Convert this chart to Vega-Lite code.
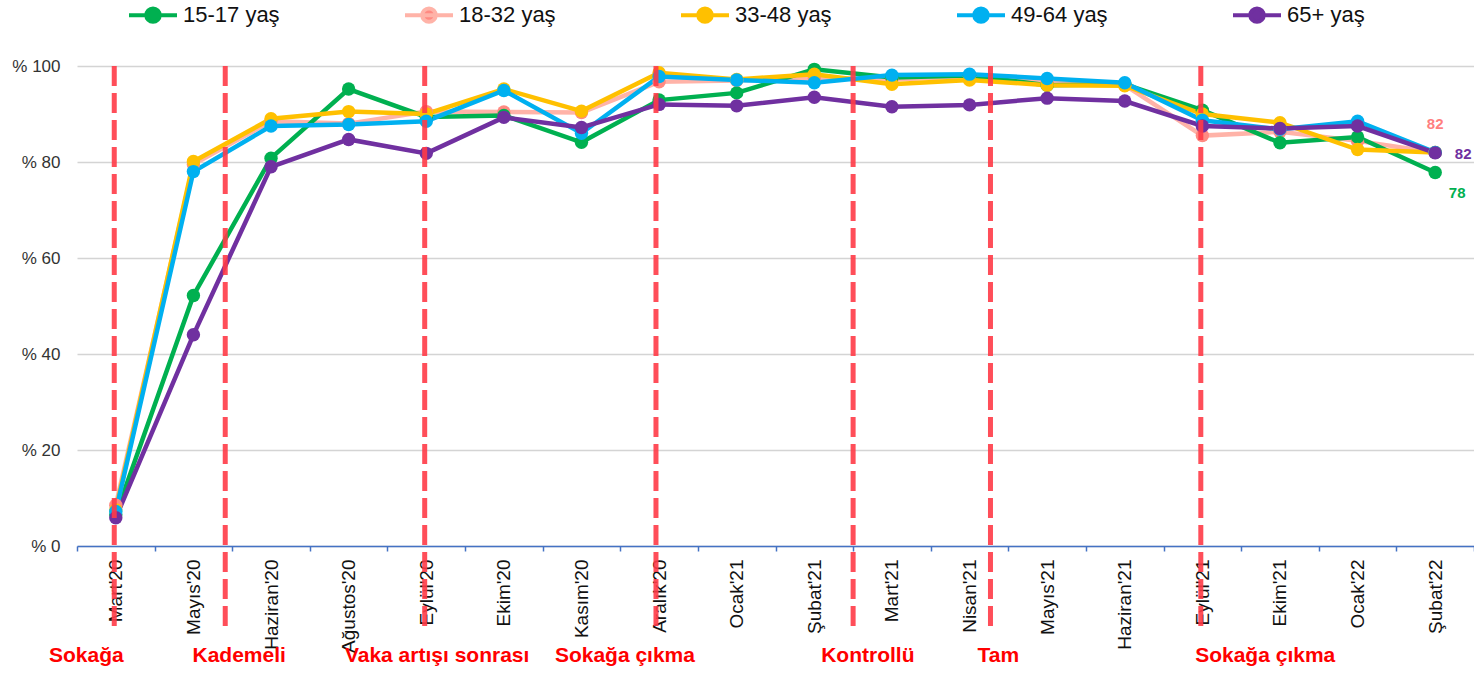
{
  "$schema": "https://vega.github.io/schema/vega-lite/v6.json",
  "width": 1397,
  "height": 480,
  "autosize": {"type": "none"},
  "padding": {"left": 77, "top": 66, "right": 0, "bottom": 128},
  "background": "white",
  "config": {
    "view": {"stroke": null},
    "font": "Liberation Sans"
  },
  "datasets": {
    "series": [
      {"month": "Mart'20", "g": "18-32 yaş", "v": 8.5},
      {"month": "Mayıs'20", "g": "18-32 yaş", "v": 79.5},
      {"month": "Haziran'20", "g": "18-32 yaş", "v": 88.5},
      {"month": "Ağustos'20", "g": "18-32 yaş", "v": 88.0},
      {"month": "Eylül'20", "g": "18-32 yaş", "v": 90.5},
      {"month": "Ekim'20", "g": "18-32 yaş", "v": 90.4},
      {"month": "Kasım'20", "g": "18-32 yaş", "v": 90.3},
      {"month": "Aralık'20", "g": "18-32 yaş", "v": 96.7},
      {"month": "Ocak'21", "g": "18-32 yaş", "v": 97.0},
      {"month": "Şubat'21", "g": "18-32 yaş", "v": 97.5},
      {"month": "Mart'21", "g": "18-32 yaş", "v": 97.2},
      {"month": "Nisan'21", "g": "18-32 yaş", "v": 97.8},
      {"month": "Mayıs'21", "g": "18-32 yaş", "v": 96.6},
      {"month": "Haziran'21", "g": "18-32 yaş", "v": 96.0},
      {"month": "Eylül'21", "g": "18-32 yaş", "v": 85.5},
      {"month": "Ekim'21", "g": "18-32 yaş", "v": 86.3},
      {"month": "Ocak'22", "g": "18-32 yaş", "v": 84.4},
      {"month": "Şubat'22", "g": "18-32 yaş", "v": 82.0},

      {"month": "Mart'20", "g": "15-17 yaş", "v": 6.5},
      {"month": "Mayıs'20", "g": "15-17 yaş", "v": 52.2},
      {"month": "Haziran'20", "g": "15-17 yaş", "v": 80.8},
      {"month": "Ağustos'20", "g": "15-17 yaş", "v": 95.2},
      {"month": "Eylül'20", "g": "15-17 yaş", "v": 89.4},
      {"month": "Ekim'20", "g": "15-17 yaş", "v": 89.7},
      {"month": "Kasım'20", "g": "15-17 yaş", "v": 84.1},
      {"month": "Aralık'20", "g": "15-17 yaş", "v": 92.9},
      {"month": "Ocak'21", "g": "15-17 yaş", "v": 94.4},
      {"month": "Şubat'21", "g": "15-17 yaş", "v": 99.3},
      {"month": "Mart'21", "g": "15-17 yaş", "v": 97.6},
      {"month": "Nisan'21", "g": "15-17 yaş", "v": 98.0},
      {"month": "Mayıs'21", "g": "15-17 yaş", "v": 96.0},
      {"month": "Haziran'21", "g": "15-17 yaş", "v": 96.2},
      {"month": "Eylül'21", "g": "15-17 yaş", "v": 90.8},
      {"month": "Ekim'21", "g": "15-17 yaş", "v": 84.0},
      {"month": "Ocak'22", "g": "15-17 yaş", "v": 85.2},
      {"month": "Şubat'22", "g": "15-17 yaş", "v": 77.8},

      {"month": "Mart'20", "g": "33-48 yaş", "v": 7.5},
      {"month": "Mayıs'20", "g": "33-48 yaş", "v": 80.1},
      {"month": "Haziran'20", "g": "33-48 yaş", "v": 89.0},
      {"month": "Ağustos'20", "g": "33-48 yaş", "v": 90.5},
      {"month": "Eylül'20", "g": "33-48 yaş", "v": 90.0},
      {"month": "Ekim'20", "g": "33-48 yaş", "v": 95.2},
      {"month": "Kasım'20", "g": "33-48 yaş", "v": 90.6},
      {"month": "Aralık'20", "g": "33-48 yaş", "v": 98.6},
      {"month": "Ocak'21", "g": "33-48 yaş", "v": 97.2},
      {"month": "Şubat'21", "g": "33-48 yaş", "v": 98.3},
      {"month": "Mart'21", "g": "33-48 yaş", "v": 96.2},
      {"month": "Nisan'21", "g": "33-48 yaş", "v": 97.1},
      {"month": "Mayıs'21", "g": "33-48 yaş", "v": 96.0},
      {"month": "Haziran'21", "g": "33-48 yaş", "v": 95.9},
      {"month": "Eylül'21", "g": "33-48 yaş", "v": 90.0},
      {"month": "Ekim'21", "g": "33-48 yaş", "v": 88.2},
      {"month": "Ocak'22", "g": "33-48 yaş", "v": 82.6},
      {"month": "Şubat'22", "g": "33-48 yaş", "v": 82.0},

      {"month": "Mart'20", "g": "49-64 yaş", "v": 7.2},
      {"month": "Mayıs'20", "g": "49-64 yaş", "v": 78.0},
      {"month": "Haziran'20", "g": "49-64 yaş", "v": 87.5},
      {"month": "Ağustos'20", "g": "49-64 yaş", "v": 87.8},
      {"month": "Eylül'20", "g": "49-64 yaş", "v": 88.5},
      {"month": "Ekim'20", "g": "49-64 yaş", "v": 94.9},
      {"month": "Kasım'20", "g": "49-64 yaş", "v": 86.0},
      {"month": "Aralık'20", "g": "49-64 yaş", "v": 97.8},
      {"month": "Ocak'21", "g": "49-64 yaş", "v": 97.1},
      {"month": "Şubat'21", "g": "49-64 yaş", "v": 96.5},
      {"month": "Mart'21", "g": "49-64 yaş", "v": 98.1},
      {"month": "Nisan'21", "g": "49-64 yaş", "v": 98.3},
      {"month": "Mayıs'21", "g": "49-64 yaş", "v": 97.4},
      {"month": "Haziran'21", "g": "49-64 yaş", "v": 96.5},
      {"month": "Eylül'21", "g": "49-64 yaş", "v": 88.7},
      {"month": "Ekim'21", "g": "49-64 yaş", "v": 86.8},
      {"month": "Ocak'22", "g": "49-64 yaş", "v": 88.5},
      {"month": "Şubat'22", "g": "49-64 yaş", "v": 82.0},

      {"month": "Mart'20", "g": "65+ yaş", "v": 5.9},
      {"month": "Mayıs'20", "g": "65+ yaş", "v": 44.0},
      {"month": "Haziran'20", "g": "65+ yaş", "v": 79.0},
      {"month": "Ağustos'20", "g": "65+ yaş", "v": 84.7},
      {"month": "Eylül'20", "g": "65+ yaş", "v": 81.8},
      {"month": "Ekim'20", "g": "65+ yaş", "v": 89.3},
      {"month": "Kasım'20", "g": "65+ yaş", "v": 87.2},
      {"month": "Aralık'20", "g": "65+ yaş", "v": 92.0},
      {"month": "Ocak'21", "g": "65+ yaş", "v": 91.7},
      {"month": "Şubat'21", "g": "65+ yaş", "v": 93.5},
      {"month": "Mart'21", "g": "65+ yaş", "v": 91.5},
      {"month": "Nisan'21", "g": "65+ yaş", "v": 91.9},
      {"month": "Mayıs'21", "g": "65+ yaş", "v": 93.3},
      {"month": "Haziran'21", "g": "65+ yaş", "v": 92.7},
      {"month": "Eylül'21", "g": "65+ yaş", "v": 87.5},
      {"month": "Ekim'21", "g": "65+ yaş", "v": 87.0},
      {"month": "Ocak'22", "g": "65+ yaş", "v": 87.5},
      {"month": "Şubat'22", "g": "65+ yaş", "v": 81.9}
    ],
    "rules": [
      {"p": 0.48}, {"p": 1.91}, {"p": 4.48}, {"p": 7.46}, {"p": 10.0}, {"p": 11.77}, {"p": 14.48}
    ],
    "notes": [
      {"p": 0.12, "t": "Sokağa"},
      {"p": 2.09, "t": "Kademeli"},
      {"p": 4.64, "t": "Vaka artışı sonrası"},
      {"p": 7.06, "t": "Sokağa çıkma"},
      {"p": 10.19, "t": "Kontrollü"},
      {"p": 11.87, "t": "Tam"},
      {"p": 15.31, "t": "Sokağa çıkma"}
    ]
  },
  "layer": [
    {
      "data": {"name": "series"},
      "encoding": {
        "x": {
          "field": "month",
          "type": "ordinal",
          "sort": null,
          "scale": {"type": "band", "paddingInner": 0, "paddingOuter": 0},
          "axis": {
            "title": null,
            "tickBand": "extent",
            "domainColor": "#4472c4",
            "domainWidth": 1.5,
            "tickColor": "#4472c4",
            "tickWidth": 1.5,
            "tickSize": 5,
            "labelAngle": -90,
            "labelAlign": "right",
            "labelBaseline": "middle",
            "labelPadding": 8,
            "labelFont": "Liberation Sans",
            "labelFontSize": 19,
            "labelColor": "#111111",
            "grid": false
          }
        },
        "y": {
          "field": "v",
          "type": "quantitative",
          "scale": {"domain": [0, 100], "nice": false, "zero": true},
          "axis": {
            "title": null,
            "values": [0, 20, 40, 60, 80, 100],
            "labelExpr": "'% ' + datum.value",
            "domain": false,
            "ticks": false,
            "labelPadding": 17,
            "labelFont": "Liberation Sans",
            "labelFontSize": 17,
            "labelColor": "#333333",
            "gridColor": "#d4d4d4",
            "gridWidth": 1.5
          }
        }
      },
      "layer": [
        {
          "mark": {"type": "line", "strokeWidth": 4.5},
          "encoding": {
            "stroke": {
              "field": "g",
              "type": "nominal",
              "scale": {
                "domain": ["15-17 yaş", "18-32 yaş", "33-48 yaş", "49-64 yaş", "65+ yaş"],
                "range": ["#00b050", "#ffb3a8", "#ffc000", "#00b0f0", "#7030a0"]
              },
              "legend": {
                "title": null,
                "orient": "none",
                "legendX": 50,
                "legendY": -77,
                "direction": "horizontal",
                "columns": 5,
                "gridAlign": "all",
                "columnPadding": 117,
                "symbolType": "M-1,0L1,0M0.28,0A0.28,0.28,0,1,1,-0.28,0A0.28,0.28,0,1,1,0.28,0Z",
                "symbolSize": 2304,
                "symbolStrokeWidth": 4,
                "labelOffset": 4,
                "labelFont": "Liberation Sans",
                "labelFontSize": 22,
                "labelColor": "#111111"
              }
            }
          }
        },
        {
          "mark": {"type": "point", "filled": true, "size": 180, "opacity": 1},
          "encoding": {
            "fill": {
              "field": "g",
              "type": "nominal",
              "scale": {
                "domain": ["15-17 yaş", "18-32 yaş", "33-48 yaş", "49-64 yaş", "65+ yaş"],
                "range": ["#00b050", "#ff8a82", "#ffc000", "#00b0f0", "#7030a0"]
              },
              "legend": {
                "title": null,
                "orient": "none",
                "legendX": 50,
                "legendY": -77,
                "direction": "horizontal",
                "columns": 5,
                "gridAlign": "all",
                "columnPadding": 117,
                "symbolType": "M-1,0L1,0M0.28,0A0.28,0.28,0,1,1,-0.28,0A0.28,0.28,0,1,1,0.28,0Z",
                "symbolSize": 2304,
                "symbolStrokeWidth": 4,
                "labelOffset": 4,
                "labelFont": "Liberation Sans",
                "labelFontSize": 22,
                "labelColor": "#111111"
              }
            }
          }
        },
        {
          "transform": [{"filter": "datum.month === \"Şubat'22\" && datum.g === '18-32 yaş'"}],
          "mark": {"type": "text", "dy": -28, "fontWeight": "bold", "fontSize": 15, "color": "#ff7f7f", "font": "Liberation Sans"},
          "encoding": {"text": {"field": "v", "type": "quantitative", "format": ".0f"}}
        },
        {
          "transform": [{"filter": "datum.month === \"Şubat'22\" && datum.g === '65+ yaş'"}],
          "mark": {"type": "text", "dx": 28, "dy": 1, "fontWeight": "bold", "fontSize": 15, "color": "#7030a0", "font": "Liberation Sans"},
          "encoding": {"text": {"field": "v", "type": "quantitative", "format": ".0f"}}
        },
        {
          "transform": [{"filter": "datum.month === \"Şubat'22\" && datum.g === '15-17 yaş'"}],
          "mark": {"type": "text", "dx": 22, "dy": 20, "fontWeight": "bold", "fontSize": 15, "color": "#00b050", "font": "Liberation Sans"},
          "encoding": {"text": {"field": "v", "type": "quantitative", "format": ".0f"}}
        }
      ]
    },
    {
      "layer": [
        {
          "data": {"name": "rules"},
          "mark": {"type": "rule", "color": "#ff3b47", "opacity": 0.9, "strokeWidth": 5, "strokeDash": [20, 7]},
          "encoding": {
            "x": {"field": "p", "type": "quantitative", "scale": {"domain": [0, 18], "nice": false, "zero": false}, "axis": null},
            "y": {"datum": 100, "type": "quantitative"},
            "y2": {"datum": -18}
          }
        },
        {
          "data": {"name": "notes"},
          "mark": {"type": "text", "color": "#ff0000", "font": "Liberation Sans", "fontWeight": "bold", "fontSize": 21, "baseline": "middle", "align": "center"},
          "encoding": {
            "x": {"field": "p", "type": "quantitative", "scale": {"domain": [0, 18], "nice": false, "zero": false}, "axis": null},
            "y": {"datum": -23, "type": "quantitative"},
            "text": {"field": "t", "type": "nominal"}
          }
        }
      ]
    }
  ],
  "resolve": {"scale": {"x": "independent"}}
}
